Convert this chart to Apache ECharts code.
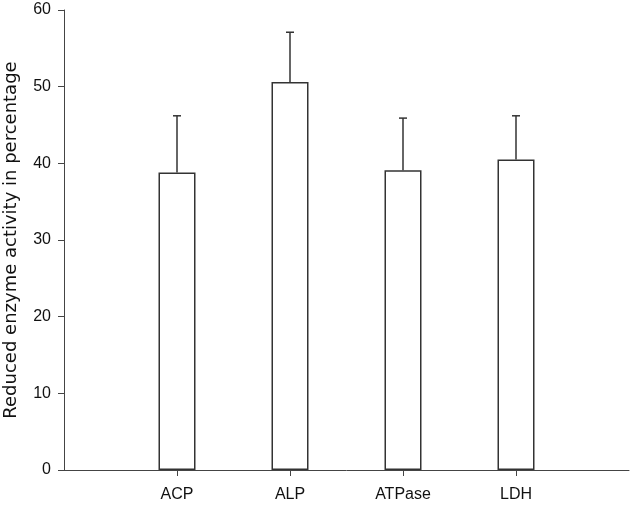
<!DOCTYPE html>
<html>
<head>
<meta charset="utf-8">
<script src="https://cdn.jsdelivr.net/npm/echarts@6/dist/echarts.min.js"></script>
<style>
  html, body { margin: 0; padding: 0; background: #fff; }
  #chart { width: 630px; height: 509px; }
</style>
</head>
<body>
<div id="chart"></div>
<script>
// categories (blank slots at both ends keep the bars inside the axis)
var categories = ['', 'ACP', 'ALP', 'ATPase', 'LDH', ''];
var means = [null, 38.8, 50.6, 39.1, 40.5, null];
var upper = [null, 46.2, 57.1, 45.9, 46.2, null];

// error bar data: [index, mean, upper]
var errData = [];
for (var i = 0; i < categories.length; i++) {
  if (means[i] !== null) errData.push([i, means[i], upper[i]]);
}

var chart = echarts.init(document.getElementById('chart'));
var option = {
  animation: false,
  grid: { left: 64, right: 1, top: 10, bottom: 39, containLabel: false, outerBoundsMode: 'none' },
  xAxis: {
    type: 'category',
    data: categories,
    boundaryGap: false,
    axisLine: { lineStyle: { color: '#444', width: 1 } },
    axisTick: {
      length: 6,
      interval: function (idx, val) { return val !== ''; },
      lineStyle: { color: '#444' }
    },
    axisLabel: {
      interval: 0,
      margin: 17,
      fontFamily: 'Liberation Sans',
      fontSize: 16,
      color: '#111'
    },
    splitLine: { show: false }
  },
  yAxis: {
    type: 'value',
    min: 0,
    max: 60,
    interval: 10,
    name: 'Reduced enzyme activity in percentage',
    nameLocation: 'middle',
    nameGap: 44,
    nameTextStyle: { fontFamily: 'DejaVu Sans', fontSize: 18, color: '#111' },
    axisLine: { show: true, lineStyle: { color: '#444', width: 1 } },
    axisTick: { show: true, length: 6, lineStyle: { color: '#444' } },
    axisLabel: { margin: 13, fontFamily: 'Liberation Sans', fontSize: 16, color: '#111' },
    splitLine: { show: false }
  },
  series: [
    {
      type: 'bar',
      data: means,
      barWidth: 37,
      itemStyle: { color: '#fff', borderColor: '#333', borderWidth: 1.5 }
    },
    {
      type: 'custom',
      data: errData,
      encode: { x: 0, y: [1, 2] },
      z: 3,
      renderItem: function (params, api) {
        var x = api.value(0);
        var base = api.coord([x, api.value(1)]);
        var top = api.coord([x, api.value(2)]);
        var half = 4;
        var style = { stroke: '#333', lineWidth: 1.5 };
        return {
          type: 'group',
          children: [
            { type: 'line', shape: { x1: base[0], y1: base[1], x2: top[0], y2: top[1] }, style: style },
            { type: 'line', shape: { x1: top[0] - half, y1: top[1], x2: top[0] + half, y2: top[1] }, style: style }
          ]
        };
      }
    }
  ]
};
chart.setOption(option);
</script>
</body>
</html>
